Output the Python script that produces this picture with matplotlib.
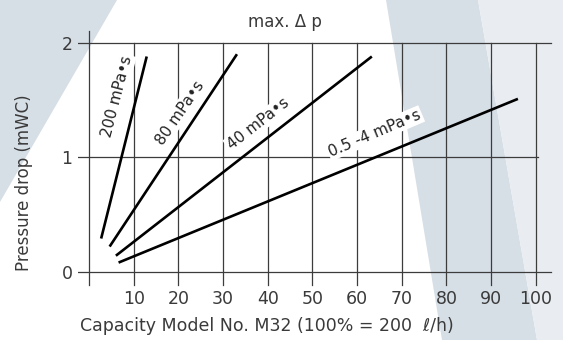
import matplotlib
matplotlib.use('Agg')
import matplotlib.pyplot as plt
from matplotlib.patches import Polygon

cap_200 = [2.7, 12.9]
dp_200 = [0.29, 1.88]
cap_80 = [4.6, 33.1]
dp_80 = [0.22, 1.90]
cap_40 = [6.0, 63.3]
dp_40 = [0.14, 1.88]
cap_05 = [6.6, 96.0]
dp_05 = [0.08, 1.51]

series = [(cap_200, dp_200), (cap_80, dp_80), (cap_40, dp_40), (cap_05, dp_05)]
labels = ['200 mPa•s', '80 mPa•s', '40 mPa•s', '0.5 -4 mPa•s']
label_pos = [(6.3, 1.53), (20.3, 1.39), (37.8, 1.29), (64.0, 1.21)]
label_rot = [75.5, 55.5, 38, 23]

xticks = [10, 20, 30, 40, 50, 60, 70, 80, 90, 100]
yticks = [0, 1, 2]

W, H = 563, 340
fig = plt.figure(figsize=(W/100, H/100), dpi=100)
plt.rcParams['font.family'] = ['DejaVu Sans']

# background bands (pixel coords -> figure fraction)
def px(pts):
    return [(x/W, 1 - y/H) for x, y in pts]

band = '#d6dee6'
light = '#e9edf1'
fig.patches.append(Polygon(px([(0, 0), (117, 0), (0, 202)]), closed=True,
                           transform=fig.transFigure, facecolor=band, edgecolor='none', zorder=-5))
fig.patches.append(Polygon(px([(386, 0), (478, 0), (537, 340), (442, 340)]), closed=True,
                           transform=fig.transFigure, facecolor=band, edgecolor='none', zorder=-5))
fig.patches.append(Polygon(px([(478, 0), (563, 0), (563, 340), (537, 340)]), closed=True,
                           transform=fig.transFigure, facecolor=light, edgecolor='none', zorder=-5))

ax = fig.add_axes([0.1384, 0.157, 0.845, 0.761])
ax.set_xlim(-2.5, 104)
ax.set_ylim(-0.13, 2.13)
ax.axis('off')

gc = '#3c3c3c'
glw = 0.9
# grid frame
ax.plot([-2.4, 103.3], [0, 0], color=gc, lw=glw, zorder=1)
ax.plot([-2.4, 103.3], [2, 2], color=gc, lw=glw, zorder=1)
ax.plot([-2.4, 100.4], [1, 1], color=gc, lw=glw, zorder=1)
ax.plot([0, 0], [-0.12, 2.1], color=gc, lw=glw, zorder=1)
for v in xticks:
    ax.plot([v, v], [-0.115, 2], color=gc, lw=glw, zorder=1)

tc = '#3a3a3a'
for v in xticks:
    ax.text(v, -0.16, str(v), ha='center', va='top', fontsize=12.5, color=tc)
for v in yticks:
    ax.text(-3.7, v, str(v), ha='right', va='center_baseline', fontsize=12.5, color=tc)

for (xs, ys) in series:
    ax.plot(xs, ys, color='black', lw=1.9, solid_capstyle='butt', zorder=4)

for lab, (lx, ly), rot in zip(labels, label_pos, label_rot):
    ax.text(lx, ly, lab, ha='center', va='center', rotation=rot, rotation_mode='anchor',
            fontsize=11, color='#222222', zorder=3,
            bbox=dict(facecolor='white', edgecolor='none', pad=1.0))

fig.text(285/W, 1 - 27/H, 'max. Δ p', ha='center', va='baseline', fontsize=12, color=tc)
fig.text(266.6/W, 1 - 331/H, 'Capacity Model No. M32 (100% = 200  ℓ/h)', ha='center',
         va='baseline', fontsize=12.5, color=tc)
fig.text(24/W, 1 - 182.5/H, 'Pressure drop (mWC)', ha='center', va='center', rotation=90,
         fontsize=12, color=tc)

fig.savefig('out.png', dpi=100, facecolor='white')
